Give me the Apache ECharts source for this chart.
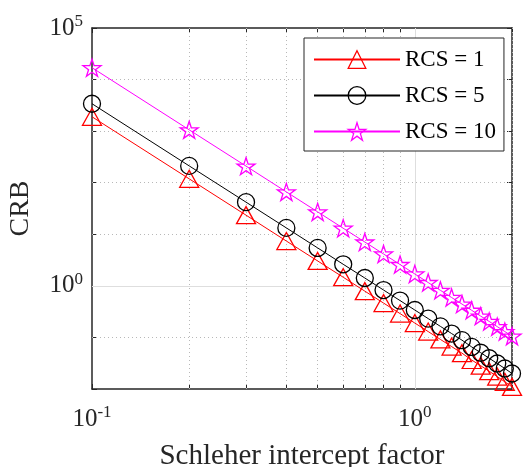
<!DOCTYPE html>
<html>
<head>
<meta charset="utf-8">
<script src="https://cdn.jsdelivr.net/npm/echarts@6/dist/echarts.min.js"></script>
<style>
  html, body { margin: 0; padding: 0; background: #fff; }
  #chart { width: 524px; height: 467px; }
</style>
</head>
<body>
<div id="chart"></div>
<script>
// Schleher intercept factor (x) and Cramér–Rao bound for three target RCS values
const interceptFactor = [0.1, 0.2, 0.3, 0.4, 0.5, 0.6, 0.7, 0.8, 0.9, 1.0,
                         1.1, 1.2, 1.3, 1.4, 1.5, 1.6, 1.7, 1.8, 1.9, 2.0];
const crbRcs1  = [1900, 119, 23.5, 7.4, 3.04, 1.47, 0.79, 0.464, 0.29, 0.19,
                  0.13, 0.0916, 0.0665, 0.0495, 0.0365, 0.0283, 0.0221, 0.0174, 0.0138, 0.0110];
const crbRcs5  = [3400, 212, 42, 13.3, 5.44, 2.62, 1.42, 0.83, 0.518, 0.34,
                  0.232, 0.164, 0.119, 0.0885, 0.0655, 0.0505, 0.0395, 0.0312, 0.0250, 0.0200];
const crbRcs10 = [17000, 1060, 210, 66.4, 27.2, 13.1, 7.08, 4.15, 2.59, 1.7,
                  1.16, 0.82, 0.595, 0.443, 0.336, 0.259, 0.204, 0.162, 0.130, 0.106];
const seriesNames = ['RCS = 1', 'RCS = 5', 'RCS = 10'];

// Axis ticks, labels and grid positions
const xTickValues  = [0.1, 0.2, 0.3, 0.4, 0.5, 0.6, 0.7, 0.8, 0.9, 1, 2];
const xLabelValues = [0.1, 1];
const yTickValues  = [0.01, 0.1, 1, 10, 100, 1000, 10000, 100000];
const yLabelValues = [1, 100000];
const xMinorGrid   = [0.2, 0.3, 0.4, 0.5, 0.6, 0.7, 0.8, 0.9, 2];
const yMinorGrid   = [0.1, 10, 100, 1000, 10000];
const xMajorGrid   = [1];
const yMajorGrid   = [1];
const xTitle = 'Schleher intercept factor';
const yTitle = 'CRB';

const FONT = 'Liberation Serif';
const INK = '#262626';
const STAR = 'path://M0,-10L2.245,-3.09L9.511,-3.09L3.633,1.18L5.878,8.09L0,3.82L-5.878,8.09L-3.633,1.18L-9.511,-3.09L-2.245,-3.09Z';

const pow10Label = v => '{b|10}{s|' + Math.round(Math.log10(v)) + '}';
const powRich = {
  b: { fontFamily: FONT, fontSize: 25, color: INK },
  s: { fontFamily: FONT, fontSize: 17, color: INK, padding: [0, 0, 13, 0] }
};

function pairs(ys) { return interceptFactor.map((x, i) => [x, ys[i]]); }

function xAxisCfg(pos, showLabels) {
  return {
    type: 'log', logBase: 10, min: 0.1, max: 2, position: pos,
    axisLine: { show: true, onZero: false, lineStyle: { color: INK, width: 1.5 } },
    axisTick: { show: true, inside: true, length: 5, customValues: xTickValues,
                lineStyle: { color: INK, width: 1 } },
    axisLabel: { show: showLabels, customValues: xLabelValues, margin: 15,
                 formatter: pow10Label, rich: powRich },
    splitLine: { show: false }, minorTick: { show: false }
  };
}
function yAxisCfg(pos, showLabels) {
  return {
    type: 'log', logBase: 10, min: 0.01, max: 100000, position: pos,
    axisLine: { show: true, onZero: false, lineStyle: { color: INK, width: 1.5 } },
    axisTick: { show: true, inside: true, length: 5, customValues: yTickValues,
                lineStyle: { color: INK, width: 1 } },
    axisLabel: { show: showLabels, customValues: yLabelValues, margin: 9,
                 formatter: pow10Label, rich: powRich },
    splitLine: { show: false }, minorTick: { show: false }
  };
}

const minorStyle = { type: [1, 3], color: '#b8b8b8', width: 1 };
const majorStyle = { type: 'solid', color: '#dedede', width: 1 };
const gridLines = []
  .concat(xMinorGrid.map(v => ({ xAxis: v, lineStyle: minorStyle })))
  .concat(yMinorGrid.map(v => ({ yAxis: v, lineStyle: minorStyle })))
  .concat(xMajorGrid.map(v => ({ xAxis: v, lineStyle: majorStyle })))
  .concat(yMajorGrid.map(v => ({ yAxis: v, lineStyle: majorStyle })));

function curve(name, ys, color, symbol, size) {
  return {
    name, type: 'line', data: pairs(ys), z: 3,
    symbol, symbolSize: size, symbolKeepAspect: true, showAllSymbol: true,
    lineStyle: { color, width: 1 },
    itemStyle: { color: 'rgba(255,255,255,0)', borderColor: color, borderWidth: 1.3 },
    emphasis: { disabled: true },
    animation: false
  };
}

const chart = echarts.init(document.getElementById('chart'), null, { renderer: 'canvas' });
chart.setOption({
  animation: false,
  backgroundColor: '#fff',
  grid: { left: 92, right: 12, top: 28, bottom: 78, containLabel: false, outerBoundsMode: 'none' },
  xAxis: [
    Object.assign(xAxisCfg('bottom', true), {
      name: xTitle, nameLocation: 'middle', nameGap: 53,
      nameTextStyle: { fontFamily: FONT, fontSize: 29, color: INK }
    }),
    xAxisCfg('top', false)
  ],
  yAxis: [
    Object.assign(yAxisCfg('left', true), {
      name: yTitle, nameLocation: 'middle', nameGap: 57, nameRotate: 90,
      nameTextStyle: { fontFamily: FONT, fontSize: 28, color: INK }
    }),
    yAxisCfg('right', false)
  ],
  legend: {
    orient: 'vertical', left: 304, top: 38,
    padding: [10, 8, 8, 9],
    itemWidth: 86, itemHeight: 22, itemGap: 13,
    backgroundColor: '#fff', borderColor: INK, borderWidth: 1,
    itemStyle: { color: 'rgba(255,255,255,0)', borderWidth: 1.3 },
    textStyle: { fontFamily: FONT, fontSize: 23, color: '#000' },
    data: seriesNames
  },
  series: [
    {
      name: 'grid', type: 'line', data: [], silent: true, z: 1,
      markLine: { silent: true, symbol: 'none', z: 1, animation: false,
                  label: { show: false }, data: gridLines }
    },
    curve(seriesNames[0], crbRcs1, '#ff0000', 'triangle', [19, 17]),
    curve(seriesNames[1], crbRcs5, '#000000', 'circle', 17),
    curve(seriesNames[2], crbRcs10, '#ff00ff', STAR, 18)
  ]
});
</script>
</body>
</html>
